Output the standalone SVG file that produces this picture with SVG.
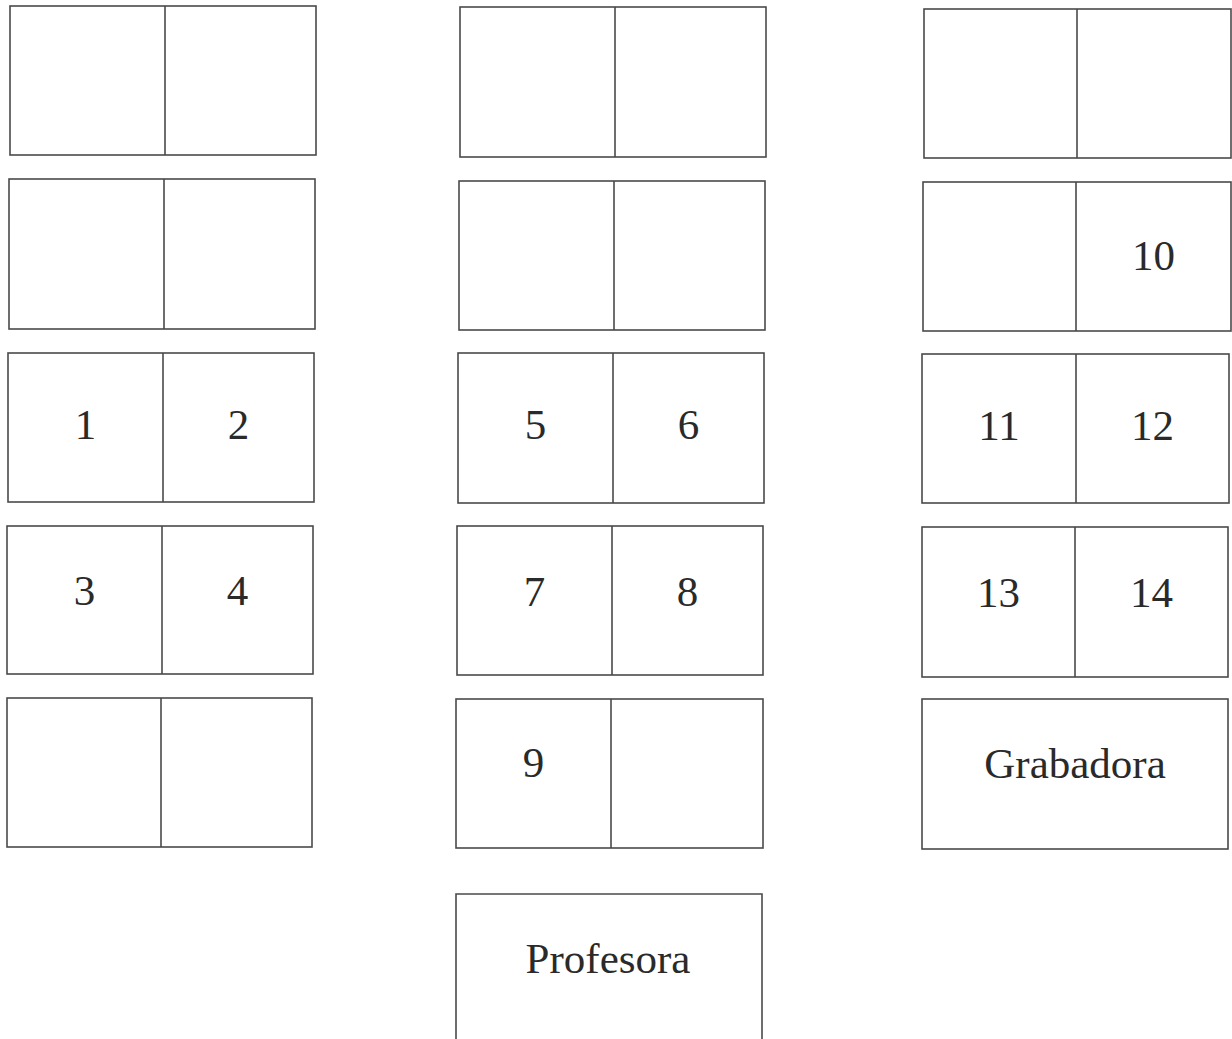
<svg xmlns="http://www.w3.org/2000/svg" width="1232" height="1039" viewBox="0 0 1232 1039">
<style>
.d{fill:none;stroke:#4a4a4a;stroke-width:1.6}
.t{font-family:"Liberation Serif","Times New Roman",serif;font-size:43px;fill:#2a2a2a;text-anchor:middle}
</style>
<rect width="1232" height="1039" fill="#ffffff"/>
<g id="desk-l1"><rect class="d" x="10" y="6" width="306" height="149"/><line class="d" x1="165" y1="6" x2="165" y2="155"/></g>
<g id="desk-l2"><rect class="d" x="9" y="179" width="306" height="150"/><line class="d" x1="164" y1="179" x2="164" y2="329"/></g>
<g id="desk-l3"><rect class="d" x="8" y="353" width="306" height="149"/><line class="d" x1="163" y1="353" x2="163" y2="502"/><text class="t" x="85.5" y="439">1</text><text class="t" x="238.5" y="439">2</text></g>
<g id="desk-l4"><rect class="d" x="7" y="526" width="306" height="148"/><line class="d" x1="162" y1="526" x2="162" y2="674"/><text class="t" x="84.5" y="605">3</text><text class="t" x="237.5" y="605">4</text></g>
<g id="desk-l5"><rect class="d" x="7" y="698" width="305" height="149"/><line class="d" x1="161" y1="698" x2="161" y2="847"/></g>
<g id="desk-m1"><rect class="d" x="460" y="7" width="306" height="150"/><line class="d" x1="615" y1="7" x2="615" y2="157"/></g>
<g id="desk-m2"><rect class="d" x="459" y="181" width="306" height="149"/><line class="d" x1="614" y1="181" x2="614" y2="330"/></g>
<g id="desk-m3"><rect class="d" x="458" y="353" width="306" height="150"/><line class="d" x1="613" y1="353" x2="613" y2="503"/><text class="t" x="535.5" y="439">5</text><text class="t" x="688.5" y="439">6</text></g>
<g id="desk-m4"><rect class="d" x="457" y="526" width="306" height="149"/><line class="d" x1="612" y1="526" x2="612" y2="675"/><text class="t" x="534.5" y="606">7</text><text class="t" x="687.5" y="606">8</text></g>
<g id="desk-m5"><rect class="d" x="456" y="699" width="307" height="149"/><line class="d" x1="611" y1="699" x2="611" y2="848"/><text class="t" x="533.5" y="777">9</text></g>
<g id="desk-profesora"><polyline class="d" points="456,1039 456,894 762,894 762,1039"/><text class="t" x="608" y="973">Profesora</text></g>
<g id="desk-r1"><rect class="d" x="924" y="9" width="307" height="149"/><line class="d" x1="1077" y1="9" x2="1077" y2="158"/></g>
<g id="desk-r2"><rect class="d" x="923" y="182" width="308" height="149"/><line class="d" x1="1076" y1="182" x2="1076" y2="331"/><text class="t" x="1153.5" y="270">10</text></g>
<g id="desk-r3"><rect class="d" x="922" y="354" width="307" height="149"/><line class="d" x1="1076" y1="354" x2="1076" y2="503"/><text class="t" x="999" y="440">11</text><text class="t" x="1152.5" y="440">12</text></g>
<g id="desk-r4"><rect class="d" x="922" y="527" width="306" height="150"/><line class="d" x1="1075" y1="527" x2="1075" y2="677"/><text class="t" x="998.5" y="607">13</text><text class="t" x="1151.5" y="607">14</text></g>
<g id="desk-grabadora"><rect class="d" x="922" y="699" width="306" height="150"/><text class="t" x="1075" y="778">Grabadora</text></g>
<g id="connectors"></g>
</svg>
